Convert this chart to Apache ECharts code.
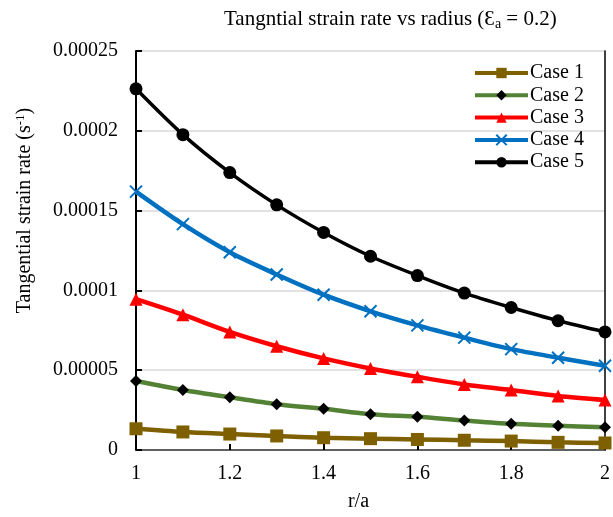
<!DOCTYPE html>
<html>
<head>
<meta charset="utf-8">
<script src="https://cdn.jsdelivr.net/npm/echarts@6/dist/echarts.min.js"></script>
<style>html,body{margin:0;padding:0;background:#fff}#c{width:613px;height:517px}</style>
</head>
<body>
<div id="c"></div>
<script>
var rValues = [1, 1.1, 1.2, 1.3, 1.4, 1.5, 1.6, 1.7, 1.8, 1.9, 2];
var case1 = [0.0000133, 0.0000113, 0.0000100, 0.0000088, 0.0000077, 0.0000071, 0.0000066, 0.0000061, 0.0000056, 0.0000048, 0.0000044];
var case2 = [0.0000432, 0.0000376, 0.0000330, 0.0000287, 0.0000258, 0.0000224, 0.0000208, 0.0000185, 0.0000164, 0.0000152, 0.0000143];
var case3 = [0.0000945, 0.0000848, 0.0000740, 0.0000650, 0.0000574, 0.0000511, 0.0000459, 0.0000411, 0.0000376, 0.0000339, 0.0000314];
var case4 = [0.0001619, 0.0001415, 0.0001239, 0.0001100, 0.0000973, 0.0000869, 0.0000781, 0.0000704, 0.0000632, 0.0000578, 0.0000528];
var case5 = [0.0002263, 0.0001976, 0.0001738, 0.0001536, 0.0001363, 0.0001214, 0.0001093, 0.0000983, 0.0000893, 0.0000810, 0.0000740];
var seriesNames = ['Case 1', 'Case 2', 'Case 3', 'Case 4', 'Case 5'];
var xTickLabels = ['1', '1.2', '1.4', '1.6', '1.8', '2'];
var yTickLabels = ['0', '0.00005', '0.0001', '0.00015', '0.0002', '0.00025'];

var FONT = '"Liberation Serif", "Times New Roman", "DejaVu Serif", serif';
function pairs(arr) { return rValues.map(function (r, i) { return [r, arr[i]]; }); }

var chart = echarts.init(document.getElementById('c'), null, { renderer: 'canvas' });
var xPath = 'path://M0,0L10,10M10,0L0,10';

var styles = [
  { line: '#7F6000', width: 4.5, symbol: 'rect', size: 13, color: '#7F6000' },
  { line: '#548235', width: 4.5, symbol: 'diamond', size: 12, color: '#000000' },
  { line: '#FF0000', width: 4.5, symbol: 'triangle', size: 13, color: '#FF0000' },
  { line: '#0070C0', width: 4.5, symbol: xPath, size: 12, color: 'none', border: '#0070C0' },
  { line: '#000000', width: 3.5, symbol: 'circle', size: 13, color: '#000000' }
];
var dataSets = [case1, case2, case3, case4, case5];

var series = dataSets.map(function (d, i) {
  var s = styles[i];
  var item = { color: s.color };
  if (s.border) { item.borderColor = s.border; item.borderWidth = 2; }
  return {
    name: seriesNames[i],
    type: 'line',
    data: pairs(d),
    smooth: 0.3,
    symbol: s.symbol,
    symbolSize: s.size,
    showAllSymbol: true,
    lineStyle: { color: s.line, width: s.width, opacity: 1 },
    itemStyle: item,
    z: 2 + i
  };
});

var option = {
  animation: false,
  backgroundColor: '#ffffff',
  title: {
    text: 'Tangntial strain rate vs radius (Ɛ{sub|a} = 0.2)',
    left: 219,
    top: 3,
    textStyle: {
      fontFamily: FONT, fontSize: 21, fontWeight: 'normal', color: '#000',
      rich: { sub: { fontFamily: FONT, fontSize: 14, verticalAlign: 'bottom', padding: [9, 0, 0, 0], color: '#000' } }
    }
  },
  legend: {
    orient: 'vertical',
    left: 468,
    top: 58,
    itemWidth: 53,
    itemHeight: 13,
    itemGap: 2.3,
    data: seriesNames,
    lineStyle: { width: 4 },
    textStyle: { fontFamily: FONT, fontSize: 20, color: '#000', padding: [0, 0, 0, -3] }
  },
  grid: { left: 136, right: 5, top: 51, bottom: 65, containLabel: false },
  xAxis: [{
    type: 'value', min: 1, max: 2, interval: 0.2,
    name: 'r/a', nameLocation: 'middle', nameGap: 42,
    nameTextStyle: { fontFamily: FONT, fontSize: 20, color: '#000', padding: [0, 24, 0, 0] },
    axisLine: { show: true, onZero: false, lineStyle: { color: '#000', width: 2 } },
    axisTick: { show: true, inside: true, length: 6, lineStyle: { color: '#000', width: 2 } },
    axisLabel: {
      fontFamily: FONT, fontSize: 20, color: '#000', margin: 14,
      formatter: function (v) { var idx = Math.round((v - 1) / 0.2); return xTickLabels[idx] || ''; }
    },
    splitLine: { show: false }
  }, {
    type: 'value', min: 1, max: 2, position: 'top',
    axisLine: { show: true, lineStyle: { color: '#808080', width: 1.5 } },
    axisTick: { show: false }, axisLabel: { show: false }, splitLine: { show: false }
  }],
  yAxis: [{
    type: 'value', min: 0, max: 0.00025, interval: 0.00005,
    name: 'Tangential strain rate (s{sup|-1})', nameLocation: 'middle', nameGap: 101,
    nameTextStyle: {
      fontFamily: FONT, fontSize: 20, color: '#000', padding: [0, 0, 0, 80],
      rich: { sup: { fontFamily: FONT, fontSize: 13, verticalAlign: 'top', padding: [0, 0, 8, 0], color: '#000' } }
    },
    axisLine: { show: true, lineStyle: { color: '#000', width: 2 } },
    axisTick: { show: true, inside: true, length: 6, lineStyle: { color: '#000', width: 2 } },
    axisLabel: {
      fontFamily: FONT, fontSize: 20, color: '#000', margin: 18,
      formatter: function (v) { var idx = Math.round(v / 0.00005); return yTickLabels[idx] || ''; }
    },
    splitLine: { show: true, lineStyle: { color: '#d9d9d9', width: 1.5 } }
  }, {
    type: 'value', min: 0, max: 0.00025, position: 'right',
    axisLine: { show: true, lineStyle: { color: '#000', width: 1.5 } },
    axisTick: { show: false }, axisLabel: { show: false }, splitLine: { show: false }
  }],
  series: series
};
chart.setOption(option);
</script>
</body>
</html>
